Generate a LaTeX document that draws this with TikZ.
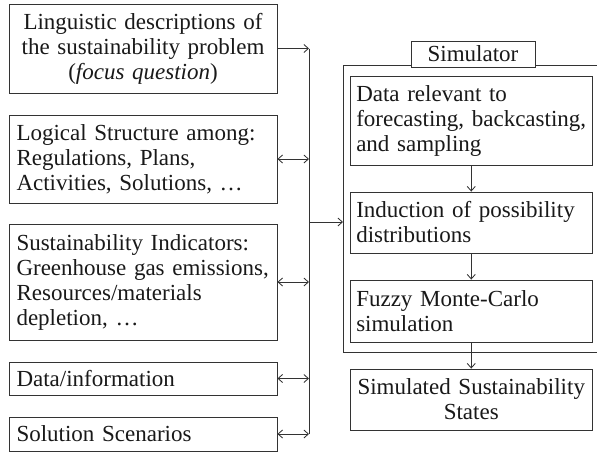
\documentclass[tikz,border=0pt]{standalone}
\usepackage{fontspec}
\setmainfont{Liberation Serif}
\usetikzlibrary{arrows.meta}
\begin{document}
\begin{tikzpicture}[x=1pt,y=-1pt,
  line width=0.85pt,
  every node/.style={font=\fontsize{23}{25}\selectfont, text=black!90},
  box/.style={draw=black!80, fill=white, rectangle, inner ysep=0pt, minimum height=#1},
  leftbox/.style={box=#1, text width=253pt, inner xsep=7.5pt, align=left},
  simbox/.style={box=#1, text width=230pt, inner xsep=5.75pt, align=left},
  link/.style={draw=black!80, -{Straight Barb[length=4.5pt,width=8pt]}},
  both/.style={draw=black!80, {Straight Barb[length=4.5pt,width=8pt]}-{Straight Barb[length=4.5pt,width=8pt]}},
  wire/.style={draw=black!80},
]
\useasboundingbox (0,0) rectangle (597,453);

% input column
\node[leftbox=89pt, align=center] (L1) at (143,48.5)
  {Linguistic descriptions of\\the sustainability problem\\(\textit{focus question})};
\node[leftbox=88pt] (L2) at (143,159)
  {Logical Structure among:\\Regulations, Plans,\\Activities, Solutions, …};
\node[leftbox=116pt] (L3) at (143,282)
  {Sustainability Indicators:\\Greenhouse gas emissions,\\Resources/materials\\depletion, …};
\node[leftbox=33pt] (L4) at (143,378.5) {Data/information};
\node[leftbox=34pt] (L5) at (143,434) {Solution Scenarios};

% simulator frame and its title
\node[draw=black!80, rectangle, inner sep=0pt, minimum width=255pt, minimum height=287pt,
      anchor=north west] (frame) at (343,65) {};
\node[box=26pt, minimum width=124pt, inner xsep=0pt] (title) at (473,54) {Simulator};

% simulator stages
\node[simbox=89pt] (A) at (471.25,120.5)
  {Data relevant to\\forecasting, backcasting,\\and sampling};
\node[simbox=61pt] (B) at (471.25,222.5)
  {Induction of possibility\\distributions};
\node[simbox=62pt] (C) at (471.25,311)
  {Fuzzy Monte-Carlo\\simulation};
\node[simbox=61pt, align=center] (D) at (471.25,399.5)
  {Simulated Sustainability\\States};

% stage arrows
\draw[link] (A) -- (B);
\draw[link] (B) -- (C);
\draw[link] (C) -- (D);

% collecting bus
\coordinate (bus) at (309,0);
\coordinate (busOut) at (309,222);
\draw[wire] (L1.east -| bus) -- (L5.east -| bus);
\draw[link] (L1.east) -- (L1.east -| bus);
\draw[both] (L2.east) -- (L2.east -| bus);
\draw[both] (L3.east) -- (L3.east -| bus);
\draw[both] (L4.east) -- (L4.east -| bus);
\draw[both] (L5.east) -- (L5.east -| bus);
\draw[link] (busOut) -- (busOut -| frame.west);
\end{tikzpicture}
\end{document}
